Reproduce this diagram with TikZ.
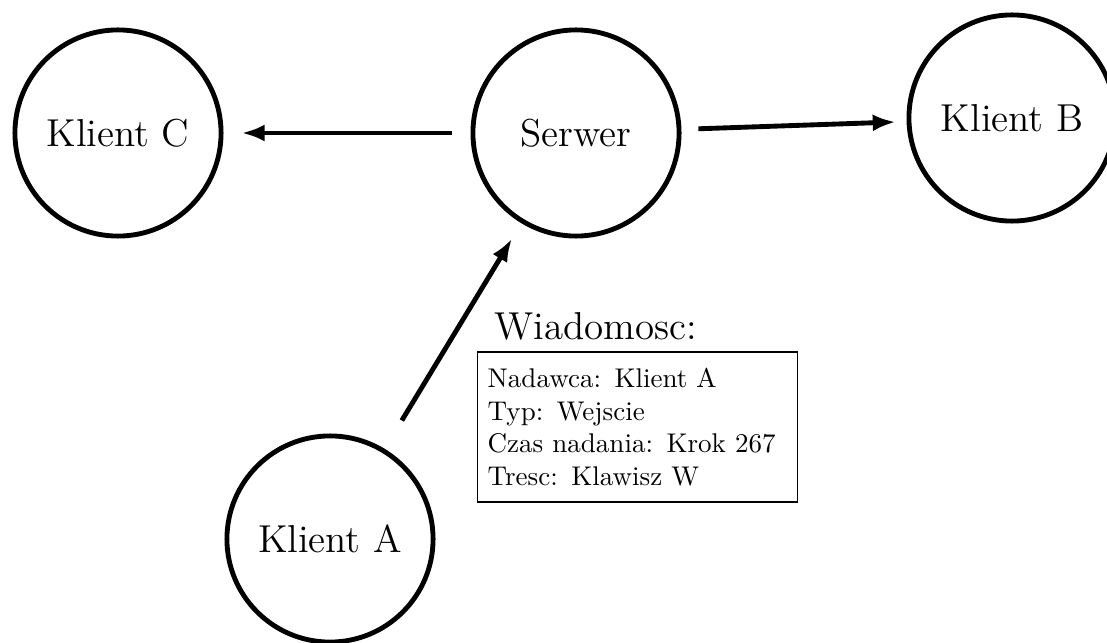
\documentclass[tikz,border=0pt]{standalone}
\usepackage{tikz}
\usetikzlibrary{arrows.meta,positioning,calc}
\tikzset{
  klient/.style={draw,circle,line width=1.8pt,minimum size=2.68cm,inner sep=0pt,font=\Large},
  msgbox/.style={draw,align=left,text width=3.9cm,inner xsep=0.13cm,minimum height=1.95cm},
  arr/.style={-{Latex[length=0.3cm,width=0.22cm]},line width=1.8pt},
}
\begin{document}
\begin{tikzpicture}
\useasboundingbox (0,0) rectangle (14.391,8.346);
\node[klient] (kc) at (1.534,6.617) {Klient C};
\node[klient] (srv) at (7.488,6.617) {Serwer};
\node[klient] (kb) at (13.156,6.812) {Klient B};
\node[klient] (ka) at (4.29,1.339) {Klient A};
\node[msgbox] (msg) at (8.29,2.795) {Nadawca: Klient A\\Typ: Wejscie\\Czas nadania: Krok 267\\Tresc: Klawisz W};
\node[font=\Large,inner sep=0pt,anchor=base west] (msgt) at ([xshift=0.22cm,yshift=0.156cm]msg.north west) {Wiadomosc:};
\draw[arr,shorten <=0.247cm,shorten >=0.234cm] (srv)--(kc);
\draw[arr,shorten <=0.22cm,shorten >=0.14cm] (srv)--(kb);
\draw[arr,shorten <=0.43cm,shorten >=0.234cm] (ka)--(srv);
\end{tikzpicture}
\end{document}
